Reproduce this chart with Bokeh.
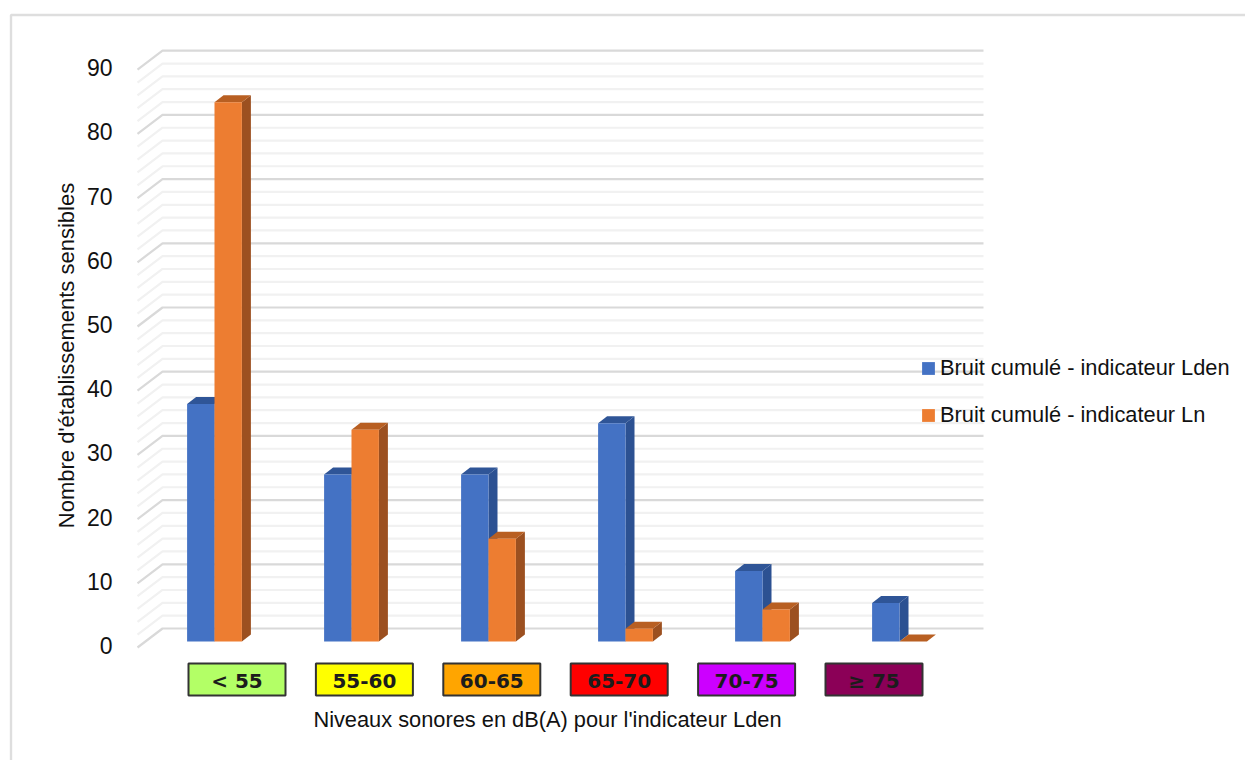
from bokeh.embed import file_html
from bokeh.models import FixedTicker, Label, Legend, LegendItem, LinearAxis, Range1d
from bokeh.plotting import figure
from bokeh.resources import INLINE

# Noise exposure of sensitive buildings per Lden band
categories = ["< 55", "55-60", "60-65", "65-70", "70-75", "≥ 75"]
band_colors = ["#b3ff66", "#ffff00", "#ffa500", "#ff0000", "#cc00ff", "#8b0057"]
lden_values = [37, 26, 26, 34, 11, 6]
ln_values = [84, 33, 16, 2, 5, 0]
series_names = ["Bruit cumulé - indicateur Lden", "Bruit cumulé - indicateur Ln"]
y_ticks = [0, 10, 20, 30, 40, 50, 60, 70, 80, 90]
y_title = "Nombre d'établissements sensibles"
x_title = "Niveaux sonores en dB(A) pour l'indicateur Lden"

W, H = 1245, 760
LEFT = 8
PX_X = 137.0          # pixels per category step
PX_Y = 6.42           # pixels per unit
ORIGIN_X, ORIGIN_Y = 214.0, 641.0  # pixel position of group 0, value 0

to_x = lambda px: (px - ORIGIN_X) / PX_X
to_y = lambda py: (ORIGIN_Y - py) / PX_Y

BAR_W = 0.2
DEPTH_X, DEPTH_Y = 9 / PX_X, 7 / PX_Y
WALL_L, WALL_R = to_x(162), to_x(983)
FLOOR_L = to_x(137)
BACK_0 = to_y(628)
FRONT_0 = to_y(647)

p = figure(width=W, height=H, output_backend="svg", toolbar_location=None,
           x_range=Range1d(to_x(LEFT), to_x(W)), y_range=Range1d(to_y(H), to_y(0)),
           min_border_left=LEFT, min_border_right=0, min_border_top=0, min_border_bottom=0,
           outline_line_color=None, background_fill_color="white", border_fill_color="white")
p.xaxis.visible = False
p.yaxis.visible = False
p.grid.visible = False

# Frame along the top and left edges of the page
p.line([to_x(10.5), to_x(10.5), to_x(W)], [to_y(H), to_y(14.5), to_y(14.5)],
       line_color="#dedede", line_width=2.4)

# Back wall and side wall gridlines, lighter between the tens
for v in range(0, 91, 2):
    major = v % 10 == 0
    color = "#d9d9d9" if major else "#f1f1f1"
    back_y = BACK_0 + v
    front_y = FRONT_0 + v
    p.line([FLOOR_L, WALL_L, WALL_R], [front_y, back_y, back_y], line_color=color, line_width=2.2)

# Extruded bars: side and top faces first, then the front face
def draw_bars(values, offset, front, side, top):
    for i, v in enumerate(values):
        x0, x1 = i + offset, i + offset + BAR_W
        p.patch([x1, x1 + DEPTH_X, x1 + DEPTH_X, x1],
                [0, DEPTH_Y, v + DEPTH_Y, v], fill_color=side, line_color=None)
        p.patch([x0, x1, x1 + DEPTH_X, x0 + DEPTH_X],
                [v, v, v + DEPTH_Y, v + DEPTH_Y], fill_color=top, line_color=None)
    return p.quad(left=[i + offset for i in range(len(values))],
                  right=[i + offset + BAR_W for i in range(len(values))],
                  bottom=0, top=values, fill_color=front, line_color=None)

r_lden = draw_bars(lden_values, -BAR_W, "#4472c4", "#2c5192", "#2f5597")
r_ln = draw_bars(ln_values, 0, "#ed7d31", "#9c5020", "#b85f22")

# Coloured band labels under the bars
BOX_STEP = 127.4 / PX_X
BOX_X0 = to_x(236.5)
box_x = [BOX_X0 + i * BOX_STEP for i in range(len(categories))]
p.rect(x=box_x, y=to_y(679), width=97 / PX_X, height=32 / PX_Y, fill_color=band_colors,
       line_color="#333333", line_width=2)
p.text(x=box_x, y=to_y(680), text=categories, text_align="center", text_baseline="middle",
       text_font={"value": "DejaVu Sans"}, text_font_style="bold", text_font_size="20px",
       text_color="#1c1c1c")

# Value axis, read on the front edge of the floor; its labels sit inside the wide frame
p.extra_y_ranges["front"] = Range1d((645 - H) / 6.42, 645 / 6.42)
axis = LinearAxis(y_range_name="front", ticker=FixedTicker(ticks=y_ticks),
                  axis_line_color=None, major_tick_line_color=None, minor_tick_line_color=None,
                  major_label_text_font="Liberation Sans",
                  major_label_text_font_size="23px", major_label_text_color="#111111",
                  major_label_standoff=-110)
p.add_layout(axis, "left")

p.add_layout(Label(x=66 - LEFT, y=H - 355, x_units="screen", y_units="screen", text=y_title,
                   angle=90, angle_units="deg", text_align="center", text_baseline="middle",
                   text_font="Liberation Sans", text_font_size="22px", text_color="#111111"))
p.add_layout(Label(x=547 - LEFT, y=H - 719, x_units="screen", y_units="screen", text=x_title,
                   text_align="center", text_baseline="middle",
                   text_font="Liberation Sans", text_font_size="21.8px", text_color="#111111"))

legend = Legend(items=[LegendItem(label=series_names[0], renderers=[r_lden]),
                       LegendItem(label=series_names[1], renderers=[r_ln])],
                location=(912, 332), orientation="vertical", background_fill_alpha=0,
                border_line_color=None, glyph_width=16, glyph_height=16, label_standoff=4,
                spacing=21, padding=0, margin=0, label_text_font="Liberation Sans",
                label_text_font_size="21.8px", label_text_color="#111111")
p.add_layout(legend)

open("out.html", "w").write(file_html(p, INLINE))
